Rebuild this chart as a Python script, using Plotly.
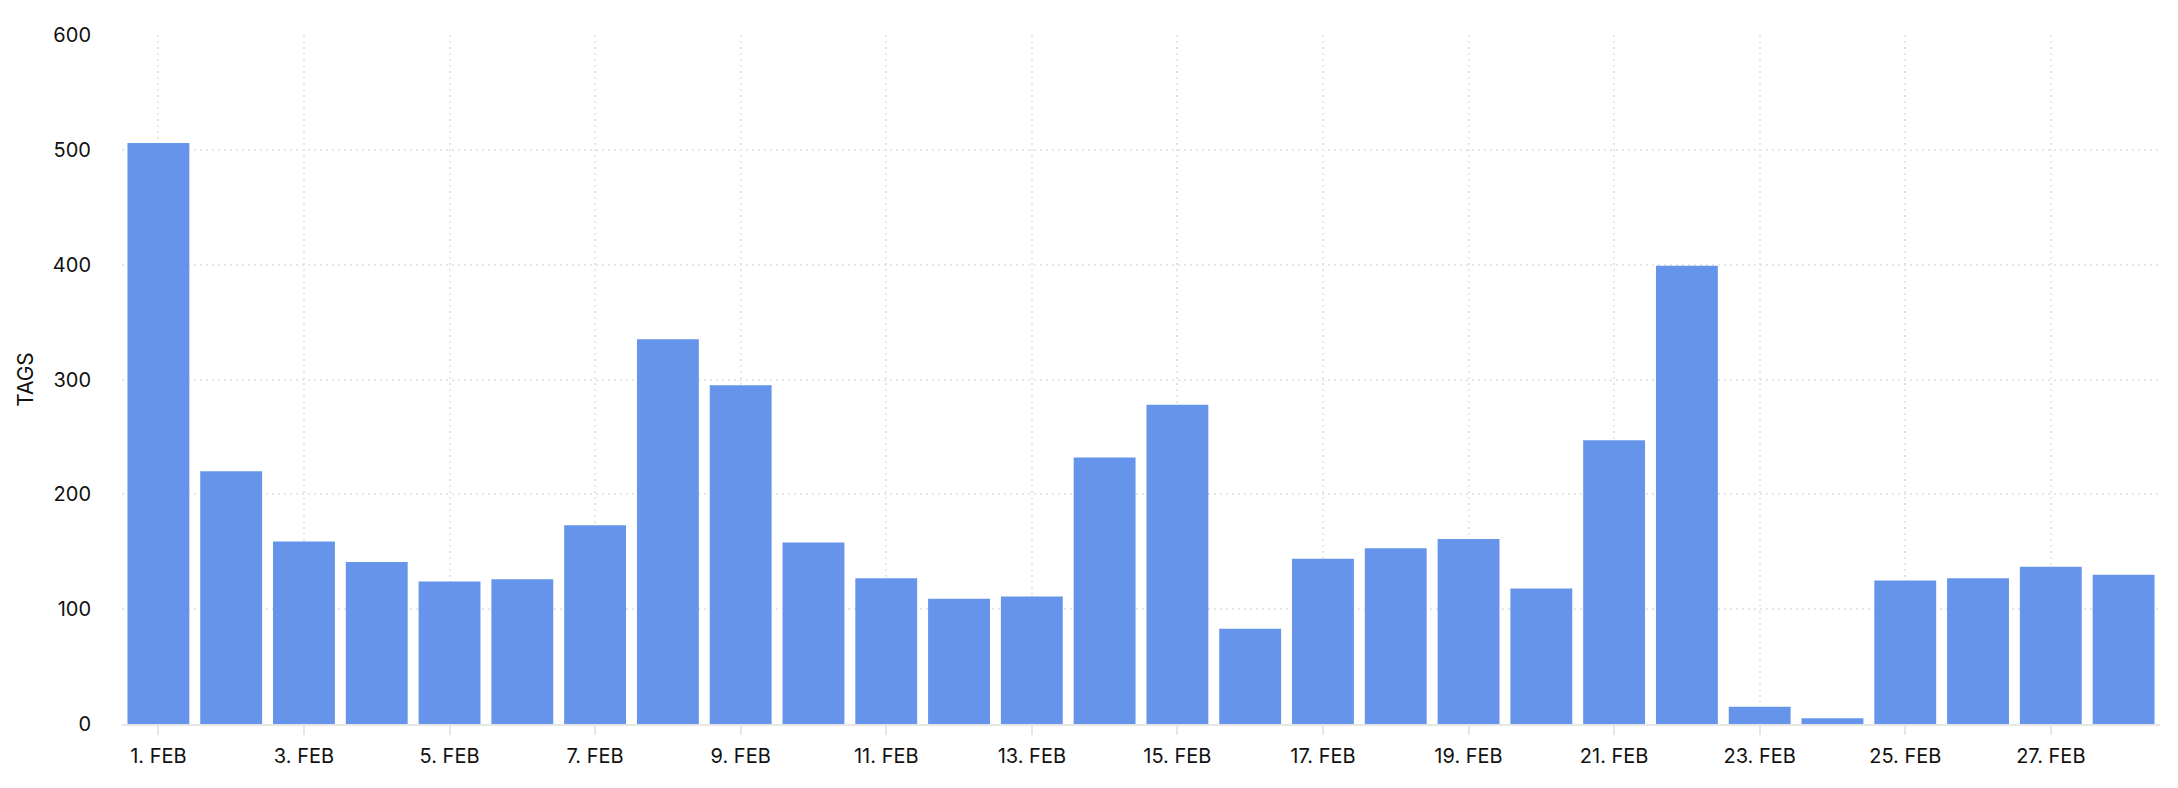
import plotly.graph_objects as go

days = [f"{d}. FEB" for d in range(1, 29)]
tags = [506, 220, 159, 141, 124, 126, 173, 335, 295, 158, 127, 109, 111, 232,
        278, 83, 144, 153, 161, 118, 247, 399, 15, 5, 125, 127, 137, 130]
tick_labels = days[::2]
y_ticks = [0, 100, 200, 300, 400, 500, 600]

BAR = "#6594EA"
GRID = "#e6e6e6"
FONT = "Inter, Roboto, sans-serif"

fig = go.Figure(go.Bar(x=days, y=tags, marker=dict(color=BAR, line=dict(width=0)),
                       hoverinfo="x+y"))

# the page body has an 8px default margin; margins compensate for it
fig.update_layout(
    width=2178, height=788,
    margin=dict(l=114, r=26, t=27, b=72),
    paper_bgcolor="white", plot_bgcolor="white",
    bargap=0.15,
    showlegend=False,
    font=dict(family=FONT, size=20, color="#111111"),
)

fig.update_xaxes(
    type="category", categoryorder="array", categoryarray=days,
    range=[-0.5, 27.5],
    tickmode="array", tickvals=tick_labels, ticktext=tick_labels,
    showgrid=True, gridcolor=GRID, gridwidth=2, griddash="2px,4px",
    showline=True, linecolor=GRID, linewidth=2,
    ticks="outside", ticklen=9, tickwidth=2, tickcolor=GRID,
    tickfont=dict(family=FONT, size=20, color="#111111"),
    ticklabelstandoff=4,
    zeroline=False,
)

fig.update_yaxes(
    range=[0, 600],
    tickmode="array", tickvals=y_ticks,
    showgrid=True, gridcolor=GRID, gridwidth=2, griddash="2px,4px",
    zeroline=False, showline=False, ticks="",
    tickfont=dict(family=FONT, size=20, color="#111111"),
    ticklabelstandoff=30,
    title=dict(text="TAGS", font=dict(family=FONT, size=21, color="#111111"), standoff=13),
)

fig.write_html("out.html")
